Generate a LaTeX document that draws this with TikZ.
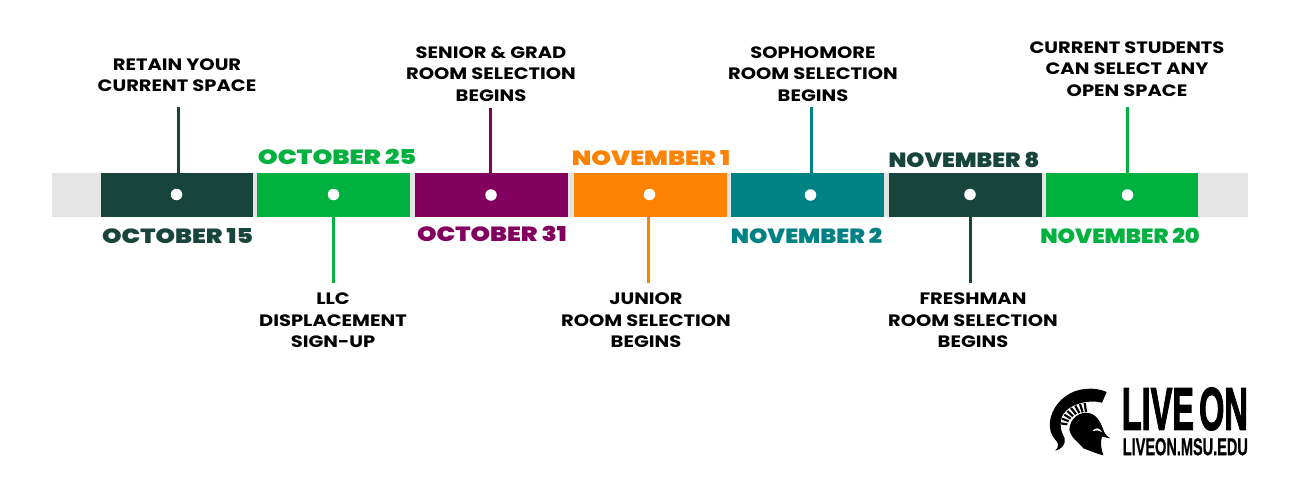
\documentclass[tikz,border=0pt]{standalone}
\usepackage{fontspec}
\setmainfont{Poppins}
\newfontfamily\labelfont{Poppins}[UprightFont=*-Bold,FakeStretch=1.18]
\newfontfamily\datefont{Poppins}[UprightFont=*-Black,FakeStretch=1.21]
\newfontfamily\logofont{Liberation Sans}[UprightFont=* Bold,FakeBold=2.5]
\newfontfamily\urlfont{Liberation Sans}[UprightFont=* Bold,FakeBold=1]
\definecolor{dkgreen}{HTML}{18453B}
\definecolor{brgreen}{HTML}{00B140}
\definecolor{plum}{HTML}{82005E}
\definecolor{msuorange}{HTML}{FF8200}
\definecolor{msuteal}{HTML}{008183}
\definecolor{bargray}{HTML}{E4E4E4}
\tikzset{
 seg/.style={fill=#1,draw=none,minimum height=44pt,inner sep=0,outer sep=0,anchor=north west},
 dotm/.style={circle,fill=white,draw=none,minimum size=11.5pt,inner sep=0},
 evt/.style={font=\labelfont\fontsize{16.5}{21.5}\selectfont,align=center,text=black,inner sep=0},
 datel/.style={font=\datefont\fontsize{20.5}{24}\selectfont,text=#1,inner sep=0},
 conn/.style={draw=#1,line width=3pt},
}
\begin{document}
\begin{tikzpicture}[x=1pt,y=-1pt]
\useasboundingbox (0,0) rectangle (1300,500);
\fill[bargray] (52,173) rectangle (1248,217);
\node[seg=dkgreen,minimum width=152pt] (s1) at (101,173) {};
\node[seg=brgreen,minimum width=153pt] (s2) at (257,173) {};
\node[seg=plum,minimum width=153pt] (s3) at (415,173) {};
\node[seg=msuorange,minimum width=153pt] (s4) at (574,173) {};
\node[seg=msuteal,minimum width=153pt] (s5) at (731,173) {};
\node[seg=dkgreen,minimum width=153pt] (s6) at (889,173) {};
\node[seg=brgreen,minimum width=152pt] (s7) at (1046,173) {};
\node[dotm] (d1) at (176.5,194.5) {};
\node[dotm] (d2) at (333.5,194.5) {};
\node[dotm] (d3) at (491,195) {};
\node[dotm] (d4) at (649.5,194.5) {};
\node[dotm] (d5) at (810.5,195) {};
\node[dotm] (d6) at (970,194.5) {};
\node[dotm] (d7) at (1127.5,195) {};
\node[evt] (e1) at (177,75) {RETAIN YOUR\\CURRENT SPACE};
\node[evt] (e2) at (333,320.5) {LLC\\DISPLACEMENT\\SIGN-UP};
\node[evt] (e3) at (491,73.8) {SENIOR \& GRAD\\ROOM SELECTION\\BEGINS};
\node[evt] (e4) at (646,320.5) {JUNIOR\\ROOM SELECTION\\BEGINS};
\node[evt] (e5) at (813,73.8) {SOPHOMORE\\ROOM SELECTION\\BEGINS};
\node[evt] (e6) at (973,320.5) {FRESHMAN\\ROOM SELECTION\\BEGINS};
\node[evt] (e7) at (1127,68.8) {CURRENT STUDENTS\\CAN SELECT ANY\\OPEN SPACE};
\coordinate (c1) at (178,107);
\coordinate (c2) at (333,283);
\coordinate (c3) at (490,108);
\coordinate (c4) at (648,283);
\coordinate (c5) at (811,107);
\coordinate (c6) at (970,283);
\coordinate (c7) at (1127,107);
\draw[conn=dkgreen] (c1) -- (c1 |- s1.north);
\draw[conn=brgreen] (c2) -- (c2 |- s2.south);
\draw[conn=plum] (c3) -- (c3 |- s3.north);
\draw[conn=msuorange] (c4) -- (c4 |- s4.south);
\draw[conn=msuteal] (c5) -- (c5 |- s5.north);
\draw[conn=dkgreen] (c6) -- (c6 |- s6.south);
\draw[conn=brgreen] (c7) -- (c7 |- s7.north);
\node[datel=dkgreen] (t1) at (177.5,236) {OCTOBER 15};
\node[datel=brgreen] (t2) at (337,156.5) {\scalebox{1.02}[1]{OCTOBER 25}};
\node[datel=plum] (t3) at (492,233.5) {OCTOBER 31};
\node[datel=msuorange] (t4) at (651,158.5) {\scalebox{1.01}[1]{NOVEMBER 1}};
\node[datel=msuteal] (t5) at (806.5,236) {\scalebox{0.94}[1]{NOVEMBER 2}};
\node[datel=dkgreen] (t6) at (964,159.5) {\scalebox{0.925}[1]{NOVEMBER 8}};
\node[datel=brgreen] (t7) at (1120,236) {\scalebox{0.9}[1]{NOVEMBER 20}};
% logo
\begin{scope}[shift={(1030,370)},x=0.3333pt,y=-0.3333pt]
\fill[black] (230,66) .. controls (195,50) and (140,52) .. (105,80)
 .. controls (72,105) and (52,145) .. (62,185)
 .. controls (68,205) and (82,212) .. (84,222)
 .. controls (85,230) and (82,236) .. (76,242)
 .. controls (95,238) and (108,222) .. (104,205)
 .. controls (100,195) and (92,185) .. (92,165)
 .. controls (90,130) and (115,110) .. (150,100)
 .. controls (175,93) and (195,93) .. (216,98) -- cycle;
\foreach \a/\b/\c/\d in {92/160/112/163,96/146/116/154,103/134/122/146,112/123/129/139,123/114/138/133,136/107/148/129,150/102/158/127,164/99/168/126}{
 \draw[black,line width=2.2pt] (\a,\b) -- (\c,\d);}
\fill[black] (118,178) .. controls (120,145) and (150,122) .. (180,130)
 .. controls (205,137) and (215,165) .. (222,185)
 .. controls (226,195) and (233,200) .. (241,205)
 -- (216,200) .. controls (210,215) and (214,240) .. (220,256)
 .. controls (195,250) and (175,240) .. (160,235)
 .. controls (150,220) and (122,205) .. (118,178) -- cycle;
\fill[white] (188,183) .. controls (195,172) and (208,172) .. (216,186) .. controls (208,180) and (198,180) .. (188,183) -- cycle;
\end{scope}
\node[inner sep=0,anchor=north east,font=\logofont\fontsize{58}{58}\selectfont] (live) at (1248,387.5) {\resizebox{126pt}{42pt}{LIVE\hspace{-0.12em} ON}};
\node[inner sep=0,anchor=north east,font=\urlfont\fontsize{20}{20}\selectfont] (url) at (1248,438) {\resizebox{125pt}{17pt}{LIVEON.MSU.EDU}};
\end{tikzpicture}
\end{document}
